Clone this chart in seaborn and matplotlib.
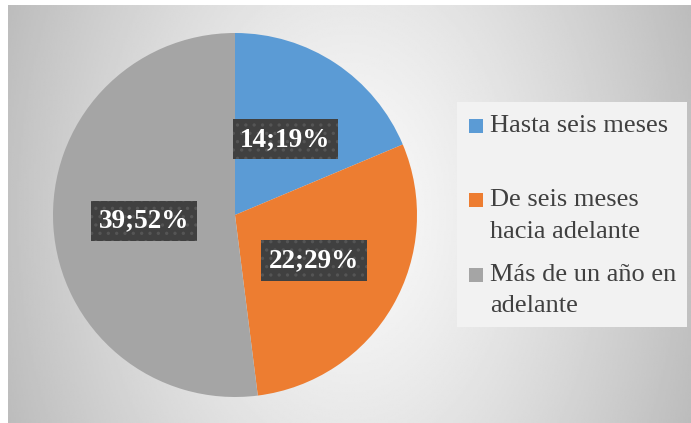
import numpy as np
import matplotlib.pyplot as plt
import matplotlib.patches as mpatches
import seaborn as sns

# Datos del gráfico
categorias = ['Hasta seis meses', 'De seis meses\nhacia adelante', 'Más de un año en\nadelante']
cantidades = [14, 22, 39]
colores = ['#5B9BD5', '#ED7D31', '#A5A5A5']

sns.set_theme(style='white')
plt.rcParams['font.family'] = 'serif'
plt.rcParams['font.serif'] = ['Liberation Serif']
plt.rcParams['hatch.linewidth'] = 1.2

W, H = 691, 423
fig = plt.figure(figsize=(W / 100, H / 100), dpi=100)

# Fondo con degradado radial (gris en los bordes, claro al centro)
bg = fig.add_axes([8 / W, 0, 1 - 8 / W, 1 - 5 / H])
xx, yy = np.meshgrid(np.linspace(-1, 1, 400), np.linspace(-1, 1, 250))
d = np.sqrt(0.85 * xx ** 2 + 0.15 * yy ** 2)
grad = 250 - 62 * np.clip(d, 0, 1) ** 1.3
bg.imshow(grad, cmap='gray', vmin=0, vmax=255, aspect='auto')
bg.axis('off')

# Pastel
cx, cy, r = 235, 215, 182
ax = fig.add_axes([(cx - r) / W, (H - cy - r) / H, 2 * r / W, 2 * r / H])
total = sum(cantidades)


def etiqueta(p):
    v = int(round(p * total / 100))
    return f'{v};{p:.0f}%'


wedges, texts, autotexts = ax.pie(cantidades, colors=colores, startangle=90,
                                  counterclock=False, autopct=etiqueta,
                                  pctdistance=0.5, radius=1,
                                  wedgeprops={'linewidth': 0})
for t in autotexts:
    t.set_color('white')
    t.set_fontsize(19.5)
    t.set_fontweight('bold')
    t.set_bbox(dict(facecolor='#404040', edgecolor='#555555', hatch='..',
                    boxstyle='square,pad=0.28', linewidth=0))
ax.set_xlim(-1, 1)
ax.set_ylim(-1, 1)
ax.axis('off')

# Leyenda dibujada a mano
fig.patches.append(mpatches.Rectangle((457 / W, (H - 327) / H), 230 / W, 225 / H,
                                      transform=fig.transFigure, facecolor='#f2f2f2',
                                      edgecolor='none', zorder=1))
y = 126
for cat, col in zip(categorias, colores):
    fig.patches.append(mpatches.Rectangle((469 / W, (H - y - 7) / H), 14 / W, 14 / H,
                                          transform=fig.transFigure, facecolor=col,
                                          edgecolor='none', zorder=2))
    for k, linea in enumerate(cat.split('\n')):
        fig.text(490 / W, (H - y - 31 * k) / H, linea, fontsize=19, color='#404040',
                 va='center', ha='left', zorder=3)
    y += 74.5

fig.savefig('out.png', dpi=100)
